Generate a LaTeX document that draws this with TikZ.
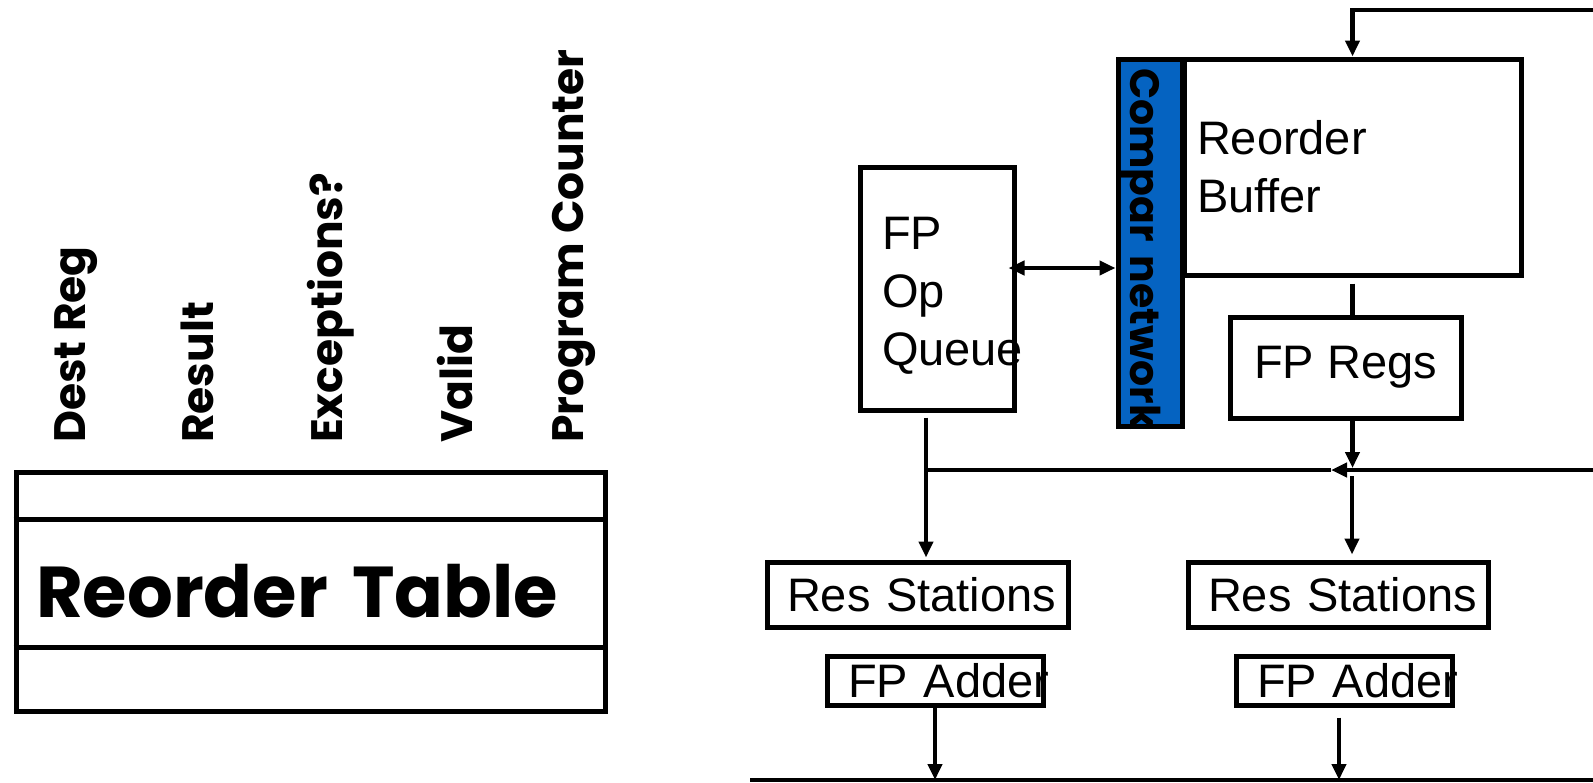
\documentclass[tikz,border=0pt]{standalone}
\usepackage{fontspec}
\setmainfont{Liberation Sans}
\newfontfamily\comicfont{Poppins}
\usetikzlibrary{arrows.meta,positioning}
\definecolor{ink}{HTML}{000000}
\definecolor{compar}{HTML}{0563C1}
\tikzset{
  >={Triangle[length=16pt,width=14pt]},
  every node/.style={text=ink},
  box/.style={draw=ink,line width=5pt,fill=white,inner sep=0pt,font=\fontsize{47}{58}\selectfont},
  leftbox/.style={box,align=left},
  cmpbox/.style={box,fill=compar,align=left,font=\comicfont\bfseries\fontsize{41}{41}\selectfont},
  colhead/.style={rotate=90,anchor=base west,inner sep=0pt,font=\comicfont\bfseries\fontsize{44}{44}\selectfont},
  tablebox/.style={draw=ink,line width=5pt,inner sep=0pt,align=left,font=\comicfont\bfseries\fontsize{72}{72}\selectfont},
  arrow/.style={->,line width=4.5pt,draw=ink},
  dblarrow/.style={<->,line width=4.5pt,draw=ink},
  wire/.style={line width=4.5pt,draw=ink},
}

\begin{document}
\begin{tikzpicture}[x=1pt,y=-1pt,node distance=24pt]
\useasboundingbox (0,0) rectangle (1593,782);

% left: reorder table and its fields
\node[tablebox,minimum width=589pt,minimum height=239pt,text width=549pt] (rtable) at (310.5,591.5) {Reorder Table};
\draw[wire,line width=5pt] ([yshift=-50pt]rtable.north west) -- ([yshift=-50pt]rtable.north east);
\draw[wire,line width=5pt] ([yshift=-178pt]rtable.north west) -- ([yshift=-178pt]rtable.north east);
\foreach [count=\i] \x/\field in {85/Dest Reg, 213/Result, 342/Exceptions?, 472/Valid, 583/Program\ Counter}
  \node[colhead] (head\i) at (\x,443) {\field};

% right: queue, compare network, buffer, regs
\node[leftbox,minimum width=154pt,minimum height=243pt,text width=110pt,text height=47pt] (queue) at (937,288.5) {FP\\Op\\Queue};
\node[cmpbox,rotate=-90,minimum width=367pt,minimum height=64pt,text width=349pt,text height=40pt,text depth=0pt] (compar) at (1150,242.5) {\mbox{Compar network}};
\node[leftbox,minimum width=337pt,minimum height=216pt,text width=311pt] (rob) at (1352.5,167) {Reorder\\Buffer};
\node[box,minimum width=231pt,minimum height=101pt] (regs) at (1345.5,367.5) {FP Regs};

% res stations and adders
\node[leftbox,minimum width=301pt,minimum height=65pt,text width=261pt] (rs1) at (917.5,594.5) {\mbox{Res Stations}};
\node[leftbox,minimum width=300pt,minimum height=65pt,text width=260pt] (rs2) at (1338,594.5) {\mbox{Res Stations}};
\node[leftbox,minimum width=216pt,minimum height=49pt,text width=174pt,below=24pt of rs1,xshift=17.5pt] (add1) {\mbox{FP Adder}};
\node[leftbox,minimum width=216pt,minimum height=49pt,text width=174pt,below=24pt of rs2,xshift=6pt] (add2) {\mbox{FP Adder}};

% buses
\coordinate (fbin) at (1593,10);
\coordinate (busR) at (1593,470);
\coordinate (bustip) at (1331,470);
\coordinate (busB) at (750,780);
\coordinate (busBR) at (1593,780);
\coordinate (qx) at ([xshift=-8pt,yshift=20.5pt]queue.east);
\coordinate (qout) at ([xshift=-11pt,yshift=-5pt]queue.south);
\coordinate (robout) at ([yshift=-6pt]rob.south);
\coordinate (rs2in) at (1352,476);
\coordinate (a2out) at ([xshift=-5pt,yshift=-10pt]add2.south);

\draw[arrow] (fbin) -| (rob.north);
\draw[dblarrow] (qx) -- (qx -| compar.south);
\draw[wire] (robout) -- (robout |- regs.north);
\draw[arrow,shorten >=2pt] (robout |- regs.south) -- (robout |- busR);
\draw[arrow] (busR) -- (bustip);
\draw[wire] (bustip) -- (qout |- busR);
\draw[arrow,shorten >=2pt] (qout) -- (qout |- rs1.north);
\draw[arrow,shorten >=5pt] (rs2in) -- (rs2in |- rs2.north);
\draw[wire] (busB) -- (busBR);
\draw[arrow] (add1.south) -- (add1.south |- busB);
\draw[arrow] (a2out) -- (a2out |- busB);

\end{tikzpicture}
\end{document}
